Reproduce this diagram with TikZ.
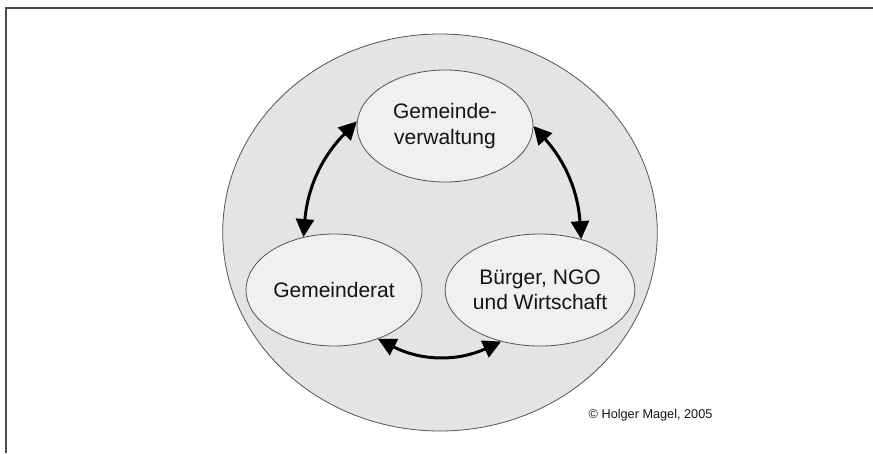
\documentclass[tikz,border=0pt]{standalone}
\usepackage{fontspec}
\setmainfont{Liberation Sans}
\usetikzlibrary{shapes.geometric,arrows.meta}
\definecolor{outerfill}{HTML}{E4E4E4}
\definecolor{innerfill}{HTML}{F0F0F0}
\definecolor{edgegray}{HTML}{555555}
\definecolor{framegray}{HTML}{4A4A4A}
\definecolor{txt}{HTML}{141414}
\tikzset{
  actor/.style={ellipse, draw=edgegray, line width=0.8pt, fill=innerfill,
    minimum width=176pt, minimum height=112pt, inner sep=0pt, align=center,
    text=txt, font=\fontsize{21}{25.5}\selectfont},
  link/.style={line width=3pt, black,
    {Triangle[length=18pt,width=18pt]}-{Triangle[length=18pt,width=18pt]}},
}
\begin{document}
\begin{tikzpicture}[x=1pt,y=-1pt]
\useasboundingbox (0,0) rectangle (873,453);
% frame (only top and left sides visible)
\draw[framegray, line width=1.6pt] (873,8) -- (6,8) -- (6,453);
% outer circle
\node[ellipse, draw=edgegray, line width=0.8pt, fill=outerfill,
  minimum width=434.6pt, minimum height=397pt, inner sep=0pt] (outer) at (440,232.5) {};
% actors
\node[actor] (gv) at (445,126) {Gemeinde-\\verwaltung};
\node[actor] (gr) at (334,290) {Gemeinderat};
\node[actor] (bn) at (540,290) {Bürger, NGO\\und Wirtschaft};
% connectors
\draw[link] (gr.120) to[bend left=20] (gv.177);
\draw[link] (gv.0) to[bend left=19] (bn.51);
\draw[link] (gr.-48) to[bend right=26] (bn.-127);
% copyright
\node[anchor=base west, inner sep=0pt, text=txt, font=\fontsize{12.7}{15}\selectfont] (copy) at (588.5,418) {© Holger Magel, 2005};
\end{tikzpicture}
\end{document}
